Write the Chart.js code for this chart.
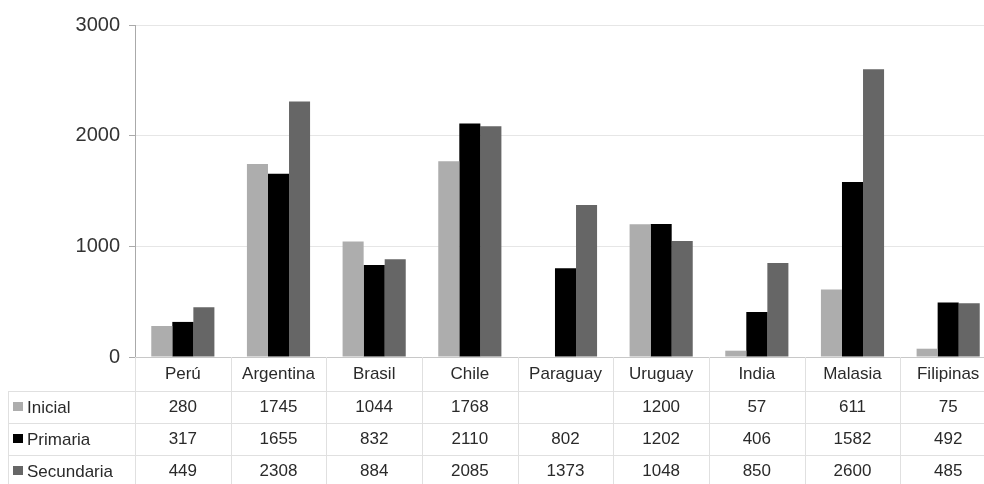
<!DOCTYPE html>
<html>
<head>
<meta charset="utf-8">
<script src="https://cdn.jsdelivr.net/npm/chart.js@4/dist/chart.umd.min.js"></script>
<style>
  html,body{margin:0;padding:0;background:#fff;overflow:hidden;}
  #wrap{width:996px;height:484px;position:relative;}
</style>
</head>
<body>
<div id="wrap"><canvas id="c"></canvas></div>
<script>
const paises = ['Perú','Argentina','Brasil','Chile','Paraguay','Uruguay','India','Malasia','Filipinas'];
const inicial = [280,1745,1044,1768,null,1200,57,611,75];
const primaria = [317,1655,832,2110,802,1202,406,1582,492];
const secundaria = [449,2308,884,2085,1373,1048,850,2600,485];
const series = [
  {label:'Inicial', data:inicial, color:'#adadad'},
  {label:'Primaria', data:primaria, color:'#000000'},
  {label:'Secundaria', data:secundaria, color:'#666666'}
];

const FONT = '"Liberation Sans", Arial, sans-serif';
const TOP = 357, ROWS = [357, 391, 423, 455, 487];

// tabla de datos bajo el gráfico
const tablePlugin = {
  id:'tabla',
  afterDraw(chart){
    const ctx = chart.ctx, xs = chart.scales.x;
    const step = xs.getPixelForValue(1) - xs.getPixelForValue(0);
    const left = chart.chartArea.left;
    ctx.save();
    ctx.strokeStyle = '#e0e0e0';
    ctx.lineWidth = 1;
    ctx.beginPath();
    for(let r=1;r<ROWS.length;r++){
      ctx.moveTo(8, ROWS[r]+0.5); ctx.lineTo(chart.width, ROWS[r]+0.5);
    }
    for(let i=0;i<=paises.length;i++){
      const x = Math.round(left + i*step)+0.5;
      ctx.moveTo(x, TOP); ctx.lineTo(x, 484);
    }
    ctx.moveTo(8.5, ROWS[1]); ctx.lineTo(8.5, 484);
    ctx.stroke();

    ctx.fillStyle = '#2a2a2a';
    ctx.font = '17px ' + FONT;
    ctx.textAlign = 'center';
    ctx.textBaseline = 'middle';
    paises.forEach((p,i)=>{
      const x = xs.getPixelForValue(i);
      ctx.fillText(p, x, (ROWS[0]+ROWS[1])/2);
      series.forEach((s,r)=>{
        const v = s.data[i];
        if(v!=null) ctx.fillText(String(v), x, (ROWS[r+1]+ROWS[r+2])/2);
      });
    });
    ctx.textAlign = 'left';
    series.forEach((s,r)=>{
      const cy = (ROWS[r+1]+ROWS[r+2])/2;
      ctx.fillStyle = s.color;
      ctx.fillRect(13, cy-5, 10, 9);
      ctx.fillStyle = '#2a2a2a';
      ctx.fillText(s.label, 27, cy+1);
    });
    ctx.restore();
  }
};

new Chart(document.getElementById('c'),{
  type:'bar',
  data:{
    labels:paises,
    datasets:series.map(s=>({label:s.label,data:s.data,backgroundColor:s.color,borderWidth:0}))
  },
  options:{
    responsive:true,
    maintainAspectRatio:false,
    animation:false,
    layout:{padding:{top:25,right:0,left:0,bottom:0}},
    datasets:{bar:{categoryPercentage:0.66,barPercentage:1}},
    plugins:{legend:{display:false},tooltip:{enabled:false}},
    scales:{
      x:{
        ticks:{display:false},
        grid:{display:false},
        border:{display:true,color:'#c8c8c8'},
        afterFit(s){ s.height = 484-TOP; }
      },
      y:{
        min:0,max:3000,
        ticks:{stepSize:1000,color:'#333',font:{family:FONT,size:20},padding:9,callback:v=>String(v)},
        grid:{color:'#e6e6e6',tickLength:6,tickColor:'#aaa'},
        border:{display:true,color:'#aaa'},
        afterFit(s){ s.width = 135; }
      }
    }
  },
  plugins:[tablePlugin]
});
</script>
</body>
</html>
